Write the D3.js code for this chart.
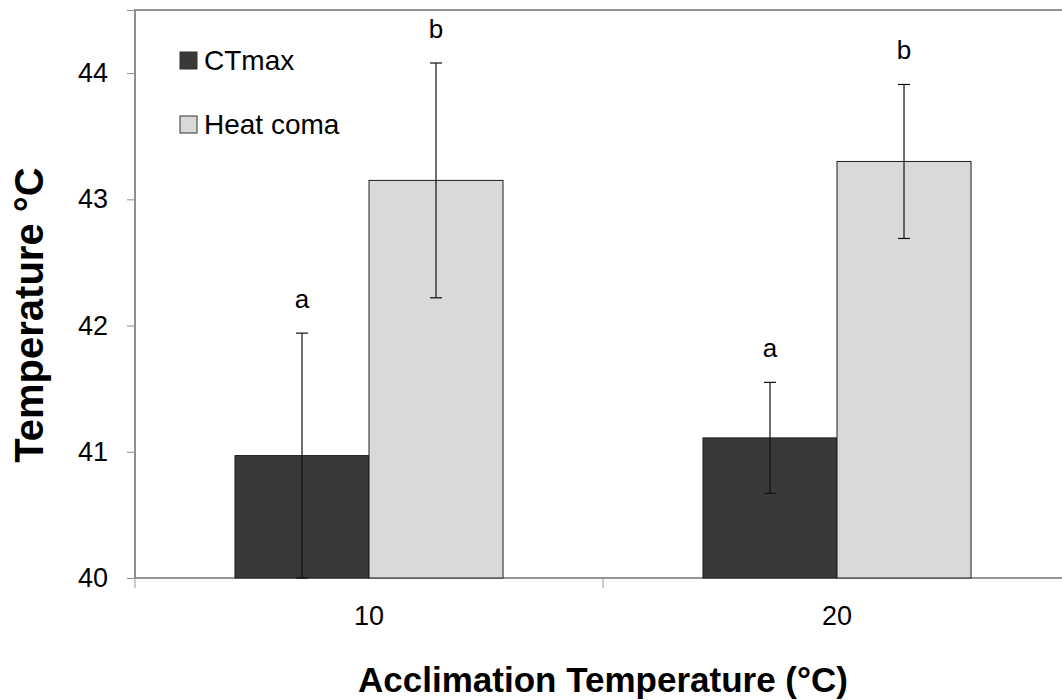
<!DOCTYPE html>
<html>
<head>
<meta charset="utf-8">
<script src="https://cdn.jsdelivr.net/npm/d3@7"></script>
<style>
  html, body { margin: 0; padding: 0; background: #fff; }
  svg { display: block; font-family: "Liberation Sans", Arial, sans-serif; }
</style>
</head>
<body>
<svg id="chart" width="1062" height="700"></svg>
<script>
// Acclimation groups and measured series
const groups = ["10", "20"];
const series = ["CTmax", "Heat coma"];
const ctmax = [40.97, 41.11];
const ctmaxErr = [0.97, 0.44];
const heatComa = [43.15, 43.30];
const heatComaErr = [0.93, 0.61];
const ctmaxLetters = ["a", "a"];
const heatComaLetters = ["b", "b"];
const yTicks = [40, 41, 42, 43, 44];
const colors = ["#3a3938", "#d9d9d9"];

const rows = [];
groups.forEach((g, i) => {
  rows.push({ group: g, key: series[0], value: ctmax[i], err: ctmaxErr[i], letter: ctmaxLetters[i] });
  rows.push({ group: g, key: series[1], value: heatComa[i], err: heatComaErr[i], letter: heatComaLetters[i] });
});

const svg = d3.select("#chart");
const plot = { left: 135, top: 10, right: 1071, bottom: 578 };

const y = d3.scaleLinear().domain([40, 44.5]).range([plot.bottom, plot.top]);
const x0 = d3.scaleBand().domain(groups).range([plot.left, plot.right]).paddingInner(0).paddingOuter(0);
const x1 = d3.scaleBand().domain(series).range([0, x0.bandwidth()]).paddingInner(0).paddingOuter(0.746);
const color = d3.scaleOrdinal().domain(series).range(colors);

// plot-area frame
svg.append("rect")
  .attr("x", plot.left).attr("y", plot.top)
  .attr("width", plot.right - plot.left).attr("height", plot.bottom - plot.top)
  .attr("fill", "none").attr("stroke", "#6f6f6f").attr("stroke-width", 1.5);

// y axis
const yAxis = svg.append("g")
  .attr("transform", `translate(${plot.left},0)`)
  .call(d3.axisLeft(y).tickValues(yTicks).tickSize(8).tickPadding(19).tickFormat(d3.format("d")));
yAxis.select(".domain").attr("stroke", "#8c8c8c");
yAxis.selectAll(".tick line").attr("stroke", "#8c8c8c");
yAxis.selectAll(".tick text").attr("font-size", 27).attr("fill", "#000")
  .attr("font-family", "'Liberation Sans', Arial, sans-serif");

// x axis with tick marks on category boundaries
const xAxis = svg.append("g")
  .attr("transform", `translate(0,${plot.bottom})`)
  .call(d3.axisBottom(x0).tickSize(0).tickPadding(28));
xAxis.select(".domain").attr("stroke", "#9a9a9a");
xAxis.selectAll(".tick text").attr("font-size", 27).attr("fill", "#000")
  .attr("font-family", "'Liberation Sans', Arial, sans-serif");
const boundaries = groups.map(g => x0(g)).concat([x0(groups[groups.length - 1]) + x0.bandwidth()]);
svg.append("g").selectAll("line").data(boundaries).join("line")
  .attr("x1", d => d).attr("x2", d => d)
  .attr("y1", plot.bottom).attr("y2", plot.bottom + 10)
  .attr("stroke", "#9a9a9a");

// bars
const barG = svg.append("g");
barG.selectAll("rect").data(rows).join("rect")
  .attr("x", d => x0(d.group) + x1(d.key))
  .attr("y", d => y(d.value))
  .attr("width", x1.bandwidth())
  .attr("height", d => y(40) - y(d.value))
  .attr("fill", d => color(d.key))
  .attr("stroke", "#1f1f1f").attr("stroke-width", 1);

// error bars
const capHalf = 6;
const errG = svg.append("g").attr("stroke", "#111").attr("stroke-width", 1.2);
rows.forEach(d => {
  const cx = x0(d.group) + x1(d.key) + x1.bandwidth() / 2;
  const yTop = y(d.value + d.err);
  const yBot = y(Math.max(40, d.value - d.err));
  errG.append("line").attr("x1", cx).attr("x2", cx).attr("y1", yTop).attr("y2", yBot);
  errG.append("line").attr("x1", cx - capHalf).attr("x2", cx + capHalf).attr("y1", yTop).attr("y2", yTop);
  errG.append("line").attr("x1", cx - capHalf).attr("x2", cx + capHalf).attr("y1", yBot).attr("y2", yBot);
});

// significance letters
svg.append("g").selectAll("text").data(rows).join("text")
  .attr("x", d => x0(d.group) + x1(d.key) + x1.bandwidth() / 2)
  .attr("y", d => y(d.value + d.err) - 25)
  .attr("text-anchor", "middle")
  .attr("font-size", 26)
  .text(d => d.letter);

// legend
const legend = svg.append("g").selectAll("g").data(series).join("g")
  .attr("transform", (d, i) => `translate(180,${52 + i * 64})`);
legend.append("rect")
  .attr("width", 17).attr("height", 17)
  .attr("fill", d => color(d)).attr("stroke", "#333").attr("stroke-width", 1);
legend.append("text")
  .attr("x", 24).attr("y", 18)
  .attr("font-size", 28)
  .text(d => d);

// axis titles
svg.append("text")
  .attr("x", (plot.left + plot.right) / 2).attr("y", 692)
  .attr("text-anchor", "middle")
  .attr("font-size", 35).attr("font-weight", "bold")
  .text("Acclimation Temperature (°C)");

svg.append("text")
  .attr("transform", "translate(43,315) rotate(-90)")
  .attr("text-anchor", "middle")
  .attr("font-size", 40).attr("font-weight", "bold")
  .text("Temperature °C");
</script>
</body>
</html>
